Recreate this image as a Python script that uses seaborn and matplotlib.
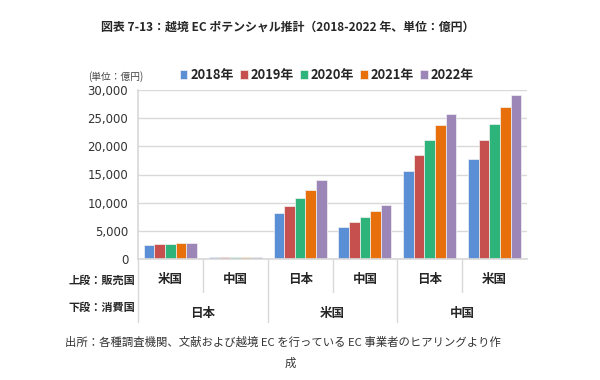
import pandas as pd
import numpy as np
import matplotlib
matplotlib.use("Agg")
import matplotlib.pyplot as plt
import seaborn as sns

# data (unit: 100 million yen)
years = ["2018年", "2019年", "2020年", "2021年", "2022年"]
sellers = ["米国", "中国", "日本", "中国", "日本", "米国"]
consumers = ["日本", "米国", "中国"]
values_us_jp = [2500, 2600, 2750, 2800, 2800]
values_cn_jp = [400, 400, 400, 400, 400]
values_jp_us = [8250, 9400, 10750, 12250, 13950]
values_cn_us = [5650, 6550, 7400, 8450, 9550]
values_jp_cn = [15700, 18550, 21150, 23750, 25700]
values_us_cn = [17800, 21100, 24050, 26950, 29150]
palette = ["#5A8FD6", "#C6504E", "#2EB47A", "#E8700C", "#9B86B7"]

series = [values_us_jp, values_cn_jp, values_jp_us, values_cn_us, values_jp_cn, values_us_cn]
rows = []
for i, vals in enumerate(series):
    for y, v in zip(years, vals):
        rows.append({"pair": i, "year": y, "value": v})
df = pd.DataFrame(rows)

sns.set_theme(style="white")
plt.rcParams["font.family"] = ["Noto Sans CJK JP", "DejaVu Sans"]

fig = plt.figure(figsize=(6, 3.8), dpi=100)
ax = fig.add_axes([138 / 600, 1 - 259 / 380, (527 - 138) / 600, (259 - 90) / 380])

sns.barplot(data=df, x="pair", y="value", hue="year", palette=palette,
            width=0.82, edgecolor="#F2F2F2", linewidth=0.5, ax=ax, saturation=1)

ax.set_ylim(0, 30000)
ax.set_xlim(-0.5, 5.5)
ax.set_yticks(np.arange(0, 30001, 5000))
ax.set_yticklabels([f"{t:,}" for t in range(0, 30001, 5000)], family="DejaVu Sans", fontsize=8.5, color="#333333")
ax.yaxis.grid(True, color="#D9D9D9", linewidth=1)
ax.set_axisbelow(True)
ax.tick_params(axis="y", length=3, color="#D9D9D9", pad=4)
ax.set_xticks([])
ax.set_xlabel("")
ax.set_ylabel("")
for s in ["top", "right"]:
    ax.spines[s].set_visible(False)
ax.spines["left"].set_color("#D9D9D9")
ax.spines["bottom"].set_color("#D9D9D9")

# legend
handles, labels = ax.get_legend_handles_labels()
ax.legend(handles, labels, ncol=5, frameon=False, loc="center left",
          bbox_to_anchor=(168 / 600, 1 - 75 / 380), bbox_transform=fig.transFigure,
          handlelength=0.6, handleheight=0.6, handletextpad=0.25, columnspacing=0.45,
          prop={"weight": "bold", "size": 9.3})

fig.text(88 / 600, 1 - 77 / 380, "(単位：億円)", fontsize=7, color="#444444", va="center", ha="left")

# category table below the axis
trans = ax.get_xaxis_transform()
for i, s in enumerate(sellers):
    ax.text(i, -21 / 169, s, transform=trans, ha="center", va="center",
            fontsize=9, fontweight="bold", clip_on=False)
for g, c in enumerate(consumers):
    ax.text(2 * g + 0.5, -54 / 169, c, transform=trans, ha="center", va="center",
            fontsize=9, fontweight="bold", clip_on=False)
for b in range(6):
    bottom = -63 / 169 if b % 2 == 0 else -33 / 169
    ax.plot([b - 0.5, b - 0.5], [0, bottom], transform=trans, color="#D9D9D9",
            linewidth=1, clip_on=False)

fig.text(102 / 600, 1 - 280 / 380, "上段：販売国", fontsize=8, fontweight="bold", ha="center", va="center")
fig.text(102 / 600, 1 - 307 / 380, "下段：消費国", fontsize=8, fontweight="bold", ha="center", va="center")

fig.text(288 / 600, 1 - 27 / 380, "図表 7-13：越境 EC ポテンシャル推計（2018-2022 年、単位：億円）",
         fontsize=8.6, fontweight="bold", ha="center", va="center")
fig.text(65 / 600, 1 - 342 / 380, "出所：各種調査機関、文献および越境 EC を行っている EC 事業者のヒアリングより作",
         fontsize=8.2, color="#333333", ha="left", va="center")
fig.text(290 / 600, 1 - 363 / 380, "成", fontsize=8.2, color="#333333", ha="center", va="center")

fig.savefig("out.png", dpi=100, facecolor="white")
